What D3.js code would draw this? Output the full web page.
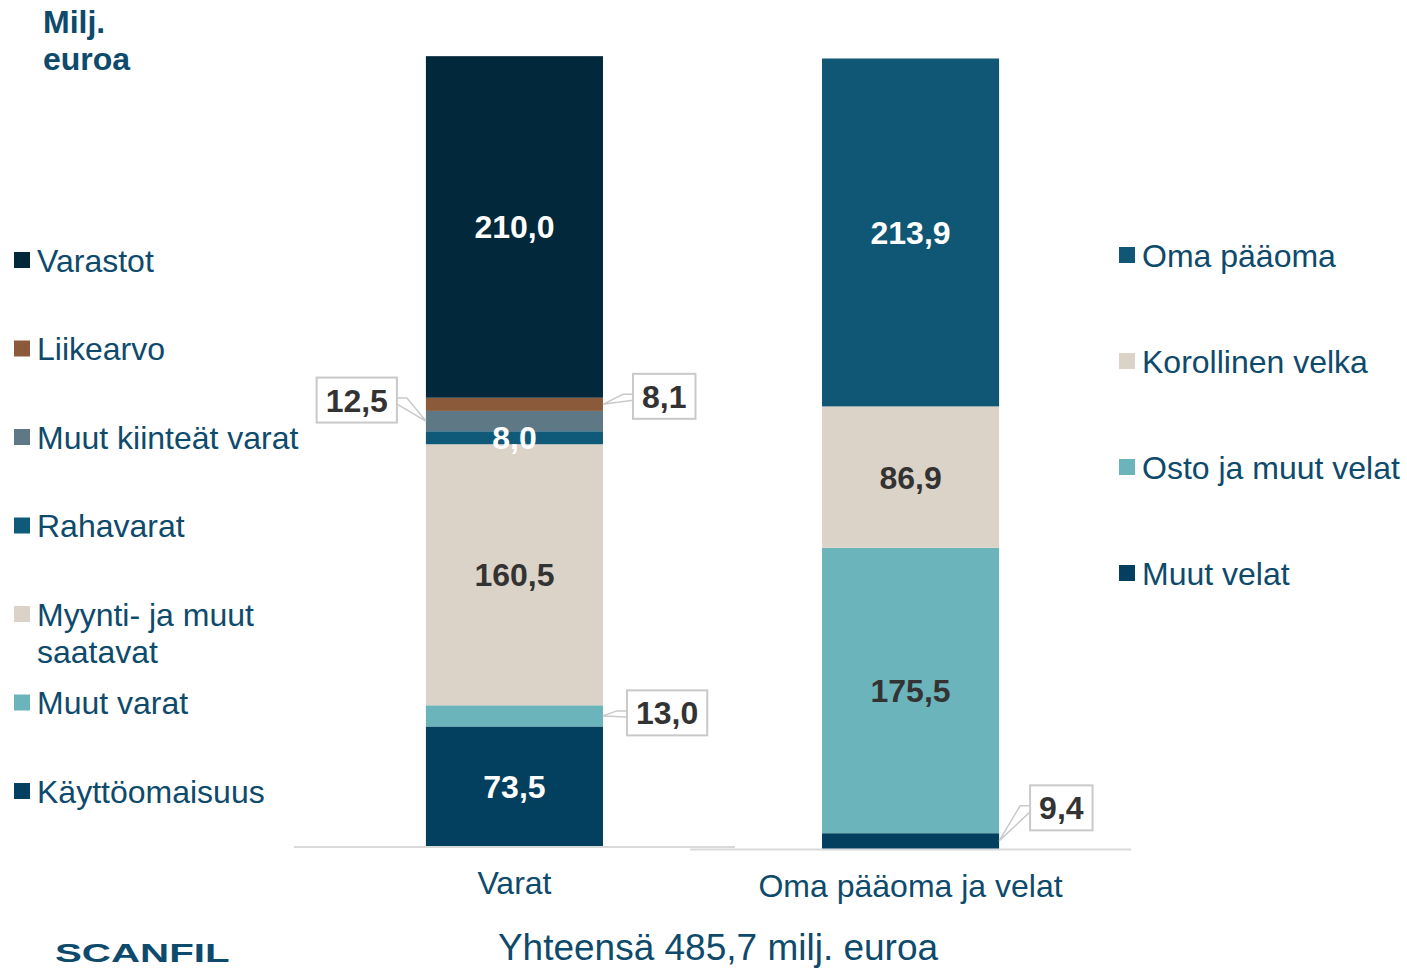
<!DOCTYPE html>
<html>
<head>
<meta charset="utf-8">
<script src="https://cdn.jsdelivr.net/npm/d3@7"></script>
<style>
  html, body { margin: 0; padding: 0; background: #fff; overflow: hidden; }
  svg { display: block; font-family: Arial, "Liberation Sans", sans-serif; }
</style>
</head>
<body>
<div id="chart"></div>
<script>
// columns
const columns = ["Varat", "Oma pääoma ja velat"];

// assets, stacked bottom -> top
const assetNames = ["Käyttöomaisuus", "Muut varat", "Myynti- ja muut saatavat", "Rahavarat", "Muut kiinteät varat", "Liikearvo", "Varastot"];
const assetValues = [73.5, 13.0, 160.5, 8.0, 12.5, 8.1, 210.0];
const assetColors = ["#033f5e", "#6cb4bb", "#dbd3c7", "#0f5a78", "#5f7885", "#8b5a3a", "#02283b"];

// equity and liabilities, stacked bottom -> top
const liabNames = ["Muut velat", "Osto ja muut velat", "Korollinen velka", "Oma pääoma"];
const liabValues = [9.4, 175.5, 86.9, 213.9];
const liabColors = ["#03405f", "#6cb4bb", "#dbd3c7", "#0f5775"];

const total = 485.7;
const footerText = "Yhteensä 485,7 milj. euroa";

const width = 1407, height = 969;
const textBlue = "#0e4a6b";
const darkText = "#333333";
const fs = 32;
const fmt = v => d3.format(".1f")(v).replace(".", ",");

const svg = d3.select("#chart").append("svg")
    .attr("width", width)
    .attr("height", height);

const x = d3.scaleBand()
    .domain(columns)
    .range([294, 1131])
    .paddingInner(0.553)
    .paddingOuter(0.333);

const y = d3.scaleLinear()
    .domain([0, total])
    .range([846, 56]);

const subHalf = 220.5; // half width of each (PowerPoint) sub-chart

function stackUp(names, values, colors) {
    let acc = 0;
    return names.map((n, i) => {
        const d = { name: n, value: values[i], color: colors[i], y0: acc, y1: acc + values[i] };
        acc += values[i];
        return d;
    });
}

const stacks = [
    { col: columns[0], dy: 0, segs: stackUp(assetNames, assetValues, assetColors) },
    { col: columns[1], dy: 2.5, segs: stackUp(liabNames, liabValues, liabColors) }
];

// which labels sit inside the bar, and their colour
const insideLabels = {
    "Varastot": "#fff", "Rahavarat": "#fff", "Myynti- ja muut saatavat": darkText, "Käyttöomaisuus": "#fff",
    "Oma pääoma": "#fff", "Korollinen velka": darkText, "Osto ja muut velat": darkText
};
// callout boxes: side, box offset from bar edge, box centre offset from segment middle
const callouts = {
    "Muut kiinteät varat": { side: -1, gap: 29, dyBox: -21 },
    "Liikearvo": { side: 1, gap: 30, dyBox: -8 },
    "Muut varat": { side: 1, gap: 24, dyBox: -3 },
    "Muut velat": { side: 1, gap: 31, dyBox: -33 }
};

stacks.forEach(st => {
    const g = svg.append("g").attr("transform", `translate(0, ${st.dy})`);
    const cx = x(st.col) + x.bandwidth() / 2;

    // axis line
    g.append("line")
        .attr("x1", cx - subHalf).attr("x2", cx + subHalf)
        .attr("y1", y(0) + 1).attr("y2", y(0) + 1)
        .attr("stroke", "#d9d9d9").attr("stroke-width", 2);

    g.selectAll("rect.seg")
        .data(st.segs)
        .enter()
        .append("rect")
        .attr("class", "seg")
        .attr("x", x(st.col))
        .attr("width", x.bandwidth())
        .attr("y", d => y(d.y1))
        .attr("height", d => y(d.y0) - y(d.y1))
        .attr("fill", d => d.color);

    // inside labels
    g.selectAll("text.val")
        .data(st.segs.filter(d => insideLabels[d.name]))
        .enter()
        .append("text")
        .attr("class", "val")
        .attr("x", cx)
        .attr("y", d => y((d.y0 + d.y1) / 2))
        .attr("dy", "0.36em")
        .attr("text-anchor", "middle")
        .attr("font-size", fs)
        .attr("font-weight", "bold")
        .attr("fill", d => insideLabels[d.name])
        .text(d => fmt(d.value));

    // callouts
    st.segs.filter(d => callouts[d.name]).forEach(d => {
        const c = callouts[d.name];
        const midY = y((d.y0 + d.y1) / 2);
        const edge = c.side > 0 ? x(st.col) + x.bandwidth() : x(st.col);
        const boxEdge = edge + c.side * c.gap;
        const cy = midY + c.dyBox;
        const cg = g.append("g");
        const t = cg.append("text")
            .attr("font-size", fs)
            .attr("font-weight", "bold")
            .attr("fill", darkText)
            .attr("dy", "0.36em")
            .attr("y", cy)
            .text(fmt(d.value));
        const tw = t.node().getComputedTextLength();
        const bw = tw + 18, bh = 45;
        const bx = c.side > 0 ? boxEdge : boxEdge - bw;
        t.attr("x", bx + bw / 2).attr("text-anchor", "middle");
        cg.insert("rect", "text")
            .attr("x", bx).attr("y", cy - bh / 2)
            .attr("width", bw).attr("height", bh)
            .attr("fill", "#fff")
            .attr("stroke", "#c9c9c9")
            .attr("stroke-width", 2);
        // wedge leader
        const elbowX = boxEdge - c.side * 10;
        const pts = [[boxEdge, cy - 2], [elbowX, cy - 2], [edge, midY], [boxEdge, cy + 4]];
        cg.insert("path", "rect")
            .attr("d", d3.line()(pts))
            .attr("fill", "none")
            .attr("stroke", "#c9c9c9")
            .attr("stroke-width", 1.5);
    });

    // category label
    g.append("text")
        .attr("x", cx)
        .attr("y", y(0) + 48)
        .attr("text-anchor", "middle")
        .attr("font-size", fs)
        .attr("fill", textBlue)
        .text(st.col);
});

// left legend (top -> bottom)
const leftLegend = assetNames.map((n, i) => ({ name: n, color: assetColors[i] })).reverse();
const leftRows = svg.append("g").selectAll("g")
    .data(leftLegend)
    .enter()
    .append("g")
    .attr("transform", (d, i) => `translate(14, ${260 + i * 88.5})`);
leftRows.append("rect")
    .attr("x", 0).attr("y", -8)
    .attr("width", 16).attr("height", 16)
    .attr("fill", d => d.color);
leftRows.each(function (d) {
    const lines = d.name === "Myynti- ja muut saatavat" ? ["Myynti- ja muut", "saatavat"] : [d.name];
    d3.select(this).selectAll("text")
        .data(lines)
        .enter()
        .append("text")
        .attr("x", 23)
        .attr("y", (l, j) => j * 37)
        .attr("dy", "0.36em")
        .attr("font-size", fs)
        .attr("fill", textBlue)
        .text(l => l);
});

// right legend
const rightLegend = liabNames.map((n, i) => ({ name: n, color: liabColors[i] })).reverse();
const rightRows = svg.append("g").selectAll("g")
    .data(rightLegend)
    .enter()
    .append("g")
    .attr("transform", (d, i) => `translate(1119, ${255 + i * 106})`);
rightRows.append("rect")
    .attr("x", 0).attr("y", -8)
    .attr("width", 16).attr("height", 16)
    .attr("fill", d => d.color);
rightRows.append("text")
    .attr("x", 23)
    .attr("dy", "0.36em")
    .attr("font-size", fs)
    .attr("fill", textBlue)
    .text(d => d.name);

// unit title
svg.append("text")
    .attr("x", 43).attr("y", 33)
    .attr("font-size", fs).attr("font-weight", "bold")
    .attr("fill", textBlue)
    .text("Milj.");
svg.append("text")
    .attr("x", 43).attr("y", 70)
    .attr("font-size", fs).attr("font-weight", "bold")
    .attr("fill", textBlue)
    .text("euroa");

// footer
svg.append("text")
    .attr("x", 718).attr("y", 960)
    .attr("text-anchor", "middle")
    .attr("font-size", 37)
    .attr("fill", textBlue)
    .text(footerText);

// logo
svg.append("text")
    .attr("transform", "translate(55, 962) scale(1.55, 1)")
    .attr("font-size", 26)
    .attr("font-weight", 900)
    .attr("fill", textBlue)
    .text("SCANFIL");
</script>
</body>
</html>
